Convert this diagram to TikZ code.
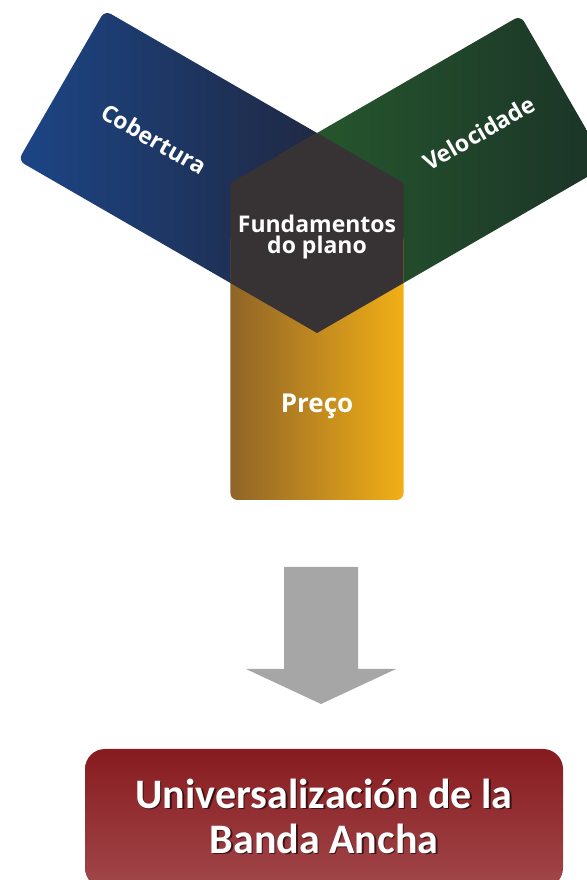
\documentclass[tikz,border=0pt]{standalone}
\usepackage{fontspec}
\usepackage{tikz}
\usetikzlibrary{shapes.geometric}
\newfontfamily\armfont{Open Sans}
\newfontfamily\titlefont{Carlito}
\definecolor{cobA}{HTML}{1C4586}
\definecolor{cobB}{HTML}{20253A}
\definecolor{velA}{HTML}{275B2D}
\definecolor{velB}{HTML}{1B3328}
\definecolor{preA}{HTML}{8F6428}
\definecolor{preB}{HTML}{F2AF16}
\definecolor{hexfill}{HTML}{373233}
\definecolor{arrowgray}{HTML}{A6A6A6}
\definecolor{boxA}{HTML}{871B1F}
\definecolor{boxB}{HTML}{A1474A}

\begin{document}
\begin{tikzpicture}[
  x=1pt, y=1pt,
  arm/.style={rounded corners=7pt},
  armtext/.style={text=white, inner sep=0pt, align=center,
                  font=\armfont\bfseries\fontsize{23}{21}\selectfont},
  hexnode/.style={regular polygon, regular polygon sides=6, regular polygon rotate=30,
                  minimum size=200pt, inner sep=0pt, fill=hexfill},
  result/.style={rounded corners=20pt, top color=boxA, bottom color=boxB,
                 minimum width=478pt, minimum height=139pt},
  titletext/.style={inner sep=0pt, align=center,
                    font=\titlefont\bfseries\fontsize{42}{45}\selectfont}
]
  \useasboundingbox (0,0) rectangle (586,880);
  \coordinate (c) at (317,647);

  \shade[arm, left color=cobA, right color=cobB]
    (c) ++(60:86.6) -- ++(150:295) -- ++(240:173.2) -- ++(330:295) -- cycle;
  \shade[arm, left color=velA, right color=velB]
    (c) ++(120:86.6) -- ++(30:285) -- ++(300:173.2) -- ++(210:285) -- cycle;
  \shade[arm, left color=preA, right color=preB] (230.4,380) rectangle (403.6,647);
  \node[hexnode] (hex) at (c) {};

  \node[armtext, rotate=-30] (lcob) at (154,741) {Cobertura};
  \node[armtext, rotate=30] (lvel) at (479,747) {Velocidade};
  \node[armtext] (fund) at (317,643) {Fundamentos\\do plano};
  \node[armtext, font=\armfont\bfseries\fontsize{26}{26}\selectfont] (lpre) at (317,474) {Preço};

  \coordinate (atop) at (321,313);
  \coordinate (atip) at (321,176);
  \fill[arrowgray] (atop) ++(-37,0) -- ++(74,0) -- ++(0,-102) -- ++(38,0)
    -- (atip) -- ++(-75,35) -- ++(38,0) -- cycle;

  \node[result] (box) at (324,61.5) {};
  \node[titletext, text=black, opacity=0.6] (ttlsh) at (325.5,62.5) {Universalización de la\\Banda Ancha};
  \node[titletext, text=white] (ttl) at (324,64) {Universalización de la\\Banda Ancha};
\end{tikzpicture}
\end{document}
